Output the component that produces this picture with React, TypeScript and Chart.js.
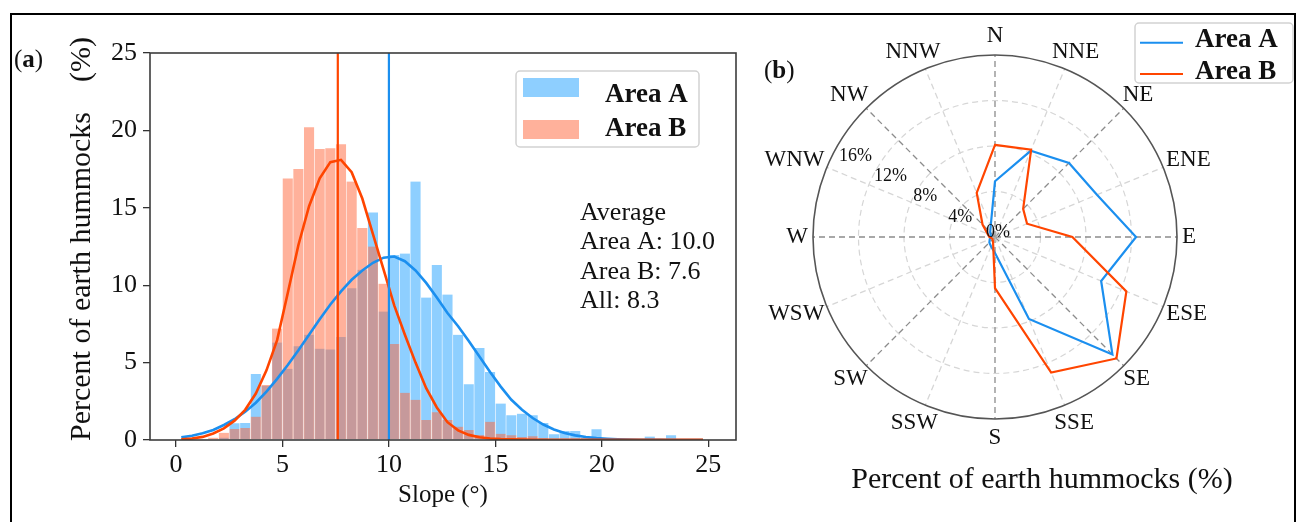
import React, { useEffect, useRef } from 'react';
import { Chart, registerables } from 'chart.js';

Chart.register(...registerables);

// ---------- data: slope histogram (a) ----------
const SLOPE_BINS = [
  0.25, 0.75, 1.25, 1.75, 2.25, 2.75, 3.25, 3.75, 4.25, 4.75,
  5.25, 5.75, 6.25, 6.75, 7.25, 7.75, 8.25, 8.75, 9.25, 9.75,
  10.25, 10.75, 11.25, 11.75, 12.25, 12.75, 13.25, 13.75, 14.25, 14.75,
  15.25, 15.75, 16.25, 16.75, 17.25, 17.75, 18.25, 18.75, 19.25, 19.75,
  20.25, 20.75, 21.25, 21.75, 22.25, 22.75, 23.25, 23.75, 24.25, 24.75,
];
const AREA_A_HIST = [
  0, 0, 0, 0, 0.15, 1.08, 1.1, 4.26, 3.5, 6.3,
  4.6, 6.05, 6.8, 5.9, 5.85, 6.65, 9.8, 11.0, 14.7, 8.3,
  11.95, 12.05, 16.7, 9.2, 11.3, 9.4, 6.8, 3.6, 5.95, 4.4,
  2.35, 1.6, 1.7, 1.6, 1.1, 0.37, 0.58, 0.58, 0.15, 0.7,
  0, 0, 0, 0, 0.22, 0, 0.3, 0, 0, 0,
];
const AREA_B_HIST = [
  0, 0, 0, 0.15, 0.47, 0.71, 0.78, 1.51, 3.55, 7.2,
  16.9, 17.5, 20.2, 18.8, 18.85, 19.1, 16.7, 13.7, 12.5, 10.1,
  6.2, 3.05, 2.6, 1.3, 1.8, 1.29, 0.86, 0.65, 0.32, 1.18,
  0.4, 0.3, 0.2, 0.25, 0.1, 0.05, 0.05, 0, 0, 0,
  0, 0, 0, 0, 0, 0, 0, 0, 0, 0,
];
const FIT_A = [
  0.17, 0.28, 0.43, 0.65, 0.97, 1.34, 1.83, 2.41, 3.12, 3.95,
  4.85, 5.8, 6.8, 7.8, 8.75, 9.6, 10.35, 10.95, 11.45, 11.78,
  11.85, 11.55, 10.95, 10.15, 9.2, 8.2, 7.35, 6.4, 5.4, 4.4,
  3.45, 2.6, 1.95, 1.42, 1.0, 0.68, 0.45, 0.3, 0.19, 0.12,
  0.08, 0.05, 0.03, 0.02, 0.01, 0.01, 0, 0, 0, 0,
];
const FIT_B = [
  0.04, 0.1, 0.2, 0.42, 0.75, 1.25, 1.95, 3.0, 4.5, 6.45,
  9.5, 12.6, 15.1, 16.9, 17.95, 18.1, 17.3, 15.6, 13.3, 11.0,
  8.7, 6.8, 5.0, 3.35, 2.1, 1.15, 0.62, 0.33, 0.18, 0.1,
  0.06, 0.04, 0.03, 0.02, 0.02, 0.01, 0.01, 0.01, 0.01, 0.01,
  0.01, 0.01, 0.01, 0.01, 0.01, 0.01, 0.01, 0.01, 0.01, 0.01,
];
const MEAN_A = 10.0;
const MEAN_B = 7.6;
const MEAN_ALL = 8.3;
const X_TICKS = [0, 5, 10, 15, 20, 25];
const Y_TICKS = [0, 5, 10, 15, 20, 25];

// ---------- data: aspect rose (b) ----------
const DIRECTIONS = ['N', 'NNE', 'NE', 'ENE', 'E', 'ESE', 'SE', 'SSE', 'S', 'SSW', 'SW', 'WSW', 'W', 'WNW', 'NW', 'NNW'];
const POLAR_A = [4.9, 8.2, 9.2, 9.7, 12.4, 10.1, 14.6, 7.8, 1.4, 0.9, 0.7, 0.5, 0.4, 0.4, 0.6, 1.0];
const POLAR_B = [8.1, 8.3, 3.5, 3.05, 6.8, 12.5, 15.1, 12.9, 4.5, 0.45, 0.3, 0.3, 0.5, 0.7, 1.55, 4.2];
const R_TICKS = [0, 4, 8, 12, 16];

const FONT = "'Liberation Serif', 'Times New Roman', serif";
const BLUE = '#1B8FEF';
const RED = '#FF4500';
const BLUE_BAR = 'rgba(30,160,255,0.5)';
const RED_BAR = 'rgba(255,99,55,0.5)';
const TXT = '#111';

const toXY = (xs: number[], ys: number[]) => xs.map((x, i) => ({ x, y: ys[i] }));

function drawParts(ctx: CanvasRenderingContext2D, parts: [string, string][], x: number, y: number) {
  let cx = x;
  for (const [txt, font] of parts) {
    ctx.font = font;
    ctx.fillText(txt, cx, y);
    cx += ctx.measureText(txt).width;
  }
}

const leftDecor = {
  id: 'leftDecor',
  afterDatasetsDraw(chart: any) {
    const { ctx, chartArea: a } = chart;
    ctx.save();
    ctx.strokeStyle = '#3c3c3c';
    ctx.lineWidth = 1.6;
    ctx.strokeRect(a.left, a.top, a.right - a.left, a.bottom - a.top);
    ctx.restore();
  },
  afterDraw(chart: any) {
    const { ctx } = chart;
    ctx.save();
    ctx.fillStyle = TXT;
    ctx.textAlign = 'left';
    ctx.textBaseline = 'alphabetic';
    // panel label
    drawParts(ctx, [['(', `25px ${FONT}`], ['a', `bold 25px ${FONT}`], [')', `25px ${FONT}`]], 14, 67);
    // legend
    ctx.beginPath();
    ctx.roundRect(516, 71, 183, 76, 4);
    ctx.fillStyle = 'rgba(255,255,255,0.85)';
    ctx.fill();
    ctx.strokeStyle = '#d2d2d2';
    ctx.lineWidth = 1.5;
    ctx.stroke();
    ctx.fillStyle = BLUE_BAR;
    ctx.fillRect(523, 78, 56, 19);
    ctx.fillStyle = RED_BAR;
    ctx.fillRect(523, 120, 56, 19);
    ctx.fillStyle = TXT;
    ctx.font = `bold 27px ${FONT}`;
    ctx.fillText('Area A', 605, 102);
    ctx.fillText('Area B', 605, 135.5);
    // averages
    ctx.font = `26px ${FONT}`;
    const lines = ['Average', `Area A: ${MEAN_A.toFixed(1)}`, `Area B: ${MEAN_B.toFixed(1)}`, `All: ${MEAN_ALL.toFixed(1)}`];
    lines.forEach((t, i) => ctx.fillText(t, 580, 220 + i * 29.4));
    ctx.restore();
  },
};

const polarDecor = {
  id: 'polarDecor',
  beforeDatasetsDraw(chart: any) {
    const s = chart.scales.r;
    const { ctx } = chart;
    ctx.save();
    ctx.beginPath();
    ctx.arc(s.xCenter, s.yCenter, s.getDistanceFromCenterForValue(s.max), 0, Math.PI * 2);
    ctx.strokeStyle = '#555';
    ctx.lineWidth = 1.6;
    ctx.setLineDash([]);
    ctx.stroke();
    ctx.restore();
  },
  afterDraw(chart: any) {
    const s = chart.scales.r;
    const { ctx } = chart;
    ctx.save();
    ctx.fillStyle = TXT;
    // direction labels
    ctx.font = `23px ${FONT}`;
    ctx.textAlign = 'center';
    ctx.textBaseline = 'middle';
    const R = s.drawingArea + 5;
    const h = 23 * 1.2;
    DIRECTIONS.forEach((lab, i) => {
      const a = s.getIndexAngle(i) - Math.PI / 2;
      const p = s.getPointPosition(i, R);
      const w = ctx.measureText(lab).width;
      ctx.fillText(lab, p.x + (Math.cos(a) * w) / 2, p.y + (Math.sin(a) * h) / 2);
    });
    // radial tick labels
    ctx.font = `18px ${FONT}`;
    const ang = (30 * Math.PI) / 180;
    R_TICKS.forEach((v) => {
      const d = s.getDistanceFromCenterForValue(v) * 0.885;
      let x = s.xCenter - Math.cos(ang) * d;
      let y = s.yCenter - Math.sin(ang) * d;
      if (v === 0) {
        x += 3;
        y -= 5;
      }
      ctx.fillText(`${v}%`, x, y);
    });
    // bottom title
    ctx.font = `30px ${FONT}`;
    ctx.textBaseline = 'alphabetic';
    ctx.fillText('Percent of earth hummocks (%)', 282, 488);
    // panel label
    ctx.textAlign = 'left';
    drawParts(ctx, [['(', `25px ${FONT}`], ['b', `bold 25px ${FONT}`], [')', `25px ${FONT}`]], 4, 78);
    // legend
    ctx.beginPath();
    ctx.roundRect(375, 23, 158, 60, 4);
    ctx.fillStyle = 'rgba(255,255,255,0.85)';
    ctx.fill();
    ctx.strokeStyle = '#d2d2d2';
    ctx.lineWidth = 1.5;
    ctx.stroke();
    ctx.lineWidth = 2;
    ctx.strokeStyle = BLUE;
    ctx.beginPath();
    ctx.moveTo(380, 42.7);
    ctx.lineTo(423, 42.7);
    ctx.stroke();
    ctx.strokeStyle = RED;
    ctx.beginPath();
    ctx.moveTo(380, 74);
    ctx.lineTo(423, 74);
    ctx.stroke();
    ctx.fillStyle = TXT;
    ctx.font = `bold 27px ${FONT}`;
    ctx.fillText('Area A', 435, 47);
    ctx.fillText('Area B', 435, 79);
    ctx.restore();
  },
};

export default function App() {
  const leftRef = useRef<HTMLCanvasElement>(null);
  const rightRef = useRef<HTMLCanvasElement>(null);

  useEffect(() => {
    document.body.style.margin = '0';
    Chart.defaults.font.family = FONT;
    Chart.defaults.color = TXT;

    const barCommon = {
      type: 'bar',
      borderWidth: { left: 0.6, right: 0.6, top: 0, bottom: 0 },
      borderColor: 'rgba(255,255,255,0.45)',
      borderSkipped: false,
      grouped: false,
      barPercentage: 1,
      categoryPercentage: 1,
    };

    const left = new Chart(leftRef.current as HTMLCanvasElement, {
      type: 'bar',
      data: {
        datasets: [
          { ...barCommon, label: 'Area A', data: toXY(SLOPE_BINS, AREA_A_HIST), backgroundColor: BLUE_BAR, order: 6 } as any,
          { ...barCommon, label: 'Area B', data: toXY(SLOPE_BINS, AREA_B_HIST), backgroundColor: RED_BAR, order: 5 } as any,
          { type: 'line', label: 'Fit A', data: toXY(SLOPE_BINS, FIT_A), borderColor: BLUE, borderWidth: 2.6, pointRadius: 0, fill: false, tension: 0, order: 4 },
          { type: 'line', label: 'Fit B', data: toXY(SLOPE_BINS, FIT_B), borderColor: RED, borderWidth: 2.6, pointRadius: 0, fill: false, tension: 0, order: 3 },
          { type: 'line', label: 'Mean B', data: [{ x: MEAN_B, y: 0 }, { x: MEAN_B, y: 25 }], borderColor: RED, borderWidth: 2.2, pointRadius: 0, fill: false, order: 2 },
          { type: 'line', label: 'Mean A', data: [{ x: MEAN_A, y: 0 }, { x: MEAN_A, y: 25 }], borderColor: BLUE, borderWidth: 2.2, pointRadius: 0, fill: false, order: 1 },
        ],
      },
      options: {
        responsive: false,
        animation: false,
        devicePixelRatio: 1,
        layout: { padding: { top: 53, right: 24, left: 0, bottom: 0 } },
        plugins: { legend: { display: false }, tooltip: { enabled: false } },
        scales: {
          x: {
            type: 'linear',
            min: -1.22,
            max: 26.3,
            offset: false,
            afterBuildTicks: (s: any) => { s.ticks = X_TICKS.map((v) => ({ value: v })); },
            afterFit: (s: any) => { s.height = 82; },
            ticks: { font: { size: 26 }, color: TXT, padding: 3, maxRotation: 0, autoSkip: false },
            grid: { offset: false, drawOnChartArea: false, drawTicks: true, tickLength: 7, color: '#333', lineWidth: 1.3 },
            border: { display: false },
            title: { display: true, text: 'Slope (°)', font: { size: 25 }, color: TXT, padding: { top: 0, bottom: 12 } },
          },
          y: {
            type: 'linear',
            min: 0,
            max: 25,
            afterBuildTicks: (s: any) => { s.ticks = Y_TICKS.map((v) => ({ value: v })); },
            afterFit: (s: any) => { s.width = 150; },
            ticks: { font: { size: 26 }, color: TXT, padding: 6 },
            grid: { drawOnChartArea: false, drawTicks: true, tickLength: 7, color: '#333', lineWidth: 1.3 },
            border: { display: false },
            title: { display: true, text: '  Percent of earth hummocks    (%)', font: { size: 30 }, color: TXT, padding: { top: 64, bottom: 0 } },
          },
        },
      } as any,
      plugins: [leftDecor],
    });

    const right = new Chart(rightRef.current as HTMLCanvasElement, {
      type: 'radar',
      data: {
        labels: DIRECTIONS,
        datasets: [
          { label: 'Area A', data: POLAR_A, borderColor: BLUE, backgroundColor: 'rgba(0,0,0,0)', borderWidth: 2.2, fill: false, pointRadius: 0, order: 2 },
          { label: 'Area B', data: POLAR_B, borderColor: RED, backgroundColor: 'rgba(0,0,0,0)', borderWidth: 2.2, fill: false, pointRadius: 0, order: 1 },
        ],
      },
      options: {
        responsive: false,
        animation: false,
        devicePixelRatio: 1,
        plugins: { legend: { display: false }, tooltip: { enabled: false } },
        elements: { line: { tension: 0 } },
        scales: {
          r: {
            min: 0,
            max: 16,
            ticks: { display: false, stepSize: 4 },
            pointLabels: { display: false },
            grid: {
              circular: true,
              color: (c: any) => (c.index === 4 ? 'rgba(0,0,0,0)' : '#d6d6d6'),
              lineWidth: 1.2,
            },
            border: { dash: [6, 4] },
            angleLines: {
              color: (c: any) => (c.index % 2 === 0 ? '#8c8c8c' : '#d6d6d6'),
              lineWidth: 1.3,
              borderDash: [6, 4],
            },
            afterFit: (s: any) => {
              s.xCenter = 235;
              s.yCenter = 237;
              s.drawingArea = 182;
            },
          },
        },
      } as any,
      plugins: [polarDecor],
    });

    return () => {
      left.destroy();
      right.destroy();
    };
  }, []);

  return (
    <div style={{ position: 'fixed', left: 0, top: 0, width: 1296, height: 522, overflow: 'hidden', background: '#fff' }}>
      <div
        style={{
          position: 'absolute', left: 10, top: 13, width: 1282, height: 600,
          borderTop: '2px solid #000', borderLeft: '2px solid #000', borderRight: '2px solid #000',
        }}
      />
      <canvas ref={leftRef} width={760} height={522} style={{ position: 'absolute', left: 0, top: 0, width: 760, height: 522 }} />
      <canvas ref={rightRef} width={536} height={522} style={{ position: 'absolute', left: 760, top: 0, width: 536, height: 522 }} />
    </div>
  );
}
